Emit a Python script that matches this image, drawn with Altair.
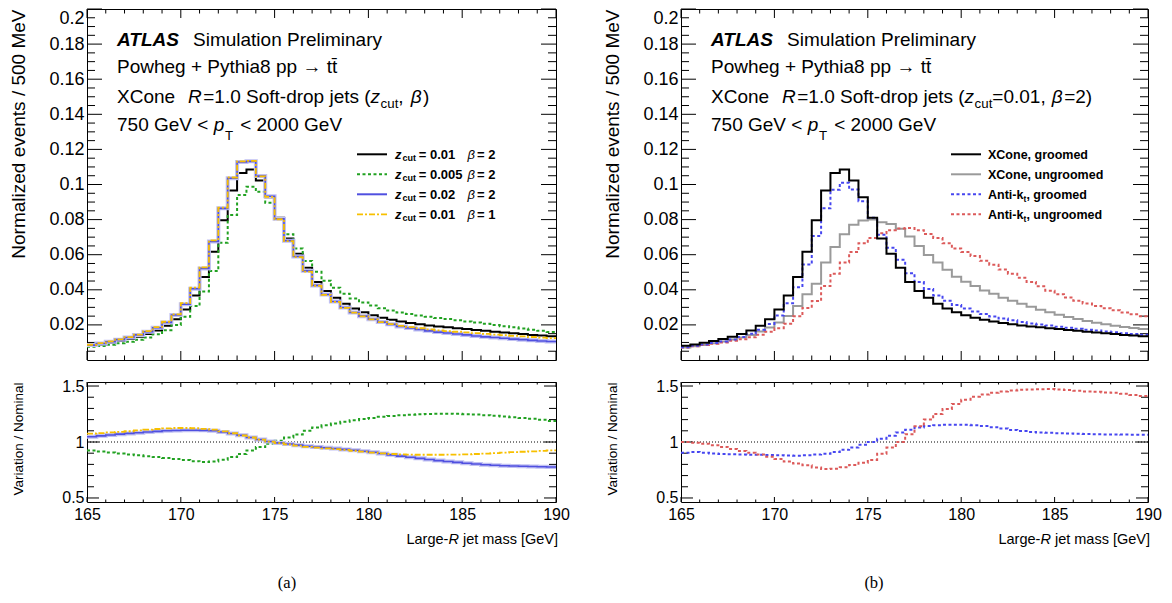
import altair as alt
import pandas as pd

# ---------------- data ----------------
mass_min = 165.0
bin_width = 0.5

# XCone soft-drop groomed, zcut = 0.01, beta = 2 (nominal in both panels)
xcone_groomed = [0.0081, 0.0089, 0.0098, 0.0108, 0.0119, 0.0132, 0.0148, 0.0168, 0.0195, 0.0232,
                 0.0288, 0.0368, 0.0473, 0.0617, 0.0796, 0.0966, 0.1066, 0.1086, 0.1023, 0.0928,
                 0.0810, 0.0692, 0.0606, 0.0526, 0.0445, 0.0393, 0.0354, 0.0320, 0.0293, 0.0272,
                 0.0255, 0.0241, 0.0229, 0.0219, 0.0211, 0.0204, 0.0197, 0.0191, 0.0186, 0.0181,
                 0.0176, 0.0171, 0.0166, 0.0161, 0.0157, 0.0152, 0.0148, 0.0143, 0.0139, 0.0135]
zcut0005_beta2 = [0.0075, 0.0080, 0.0087, 0.0095, 0.0104, 0.0115, 0.0128, 0.0147, 0.0170, 0.0200,
                  0.0246, 0.0308, 0.0390, 0.0507, 0.0668, 0.0826, 0.0940, 0.0987, 0.0958, 0.0896,
                  0.0807, 0.0716, 0.0636, 0.0564, 0.0503, 0.0452, 0.0412, 0.0378, 0.0350, 0.0328,
                  0.0310, 0.0295, 0.0282, 0.0271, 0.0262, 0.0254, 0.0246, 0.0239, 0.0233, 0.0227,
                  0.0220, 0.0213, 0.0206, 0.0199, 0.0193, 0.0186, 0.0180, 0.0173, 0.0166, 0.0160]
zcut002_beta2 = [0.0085, 0.0094, 0.0104, 0.0116, 0.0128, 0.0143, 0.0161, 0.0184, 0.0214, 0.0256,
                 0.0318, 0.0406, 0.0522, 0.0675, 0.0864, 0.1036, 0.1128, 0.1132, 0.1048, 0.0933,
                 0.0805, 0.0680, 0.0590, 0.0508, 0.0425, 0.0373, 0.0333, 0.0299, 0.0271, 0.0250,
                 0.0232, 0.0216, 0.0203, 0.0191, 0.0182, 0.0174, 0.0166, 0.0159, 0.0154, 0.0148,
                 0.0143, 0.0137, 0.0132, 0.0128, 0.0124, 0.0119, 0.0116, 0.0112, 0.0108, 0.0105]
zcut001_beta1 = [0.0087, 0.0096, 0.0106, 0.0118, 0.0130, 0.0145, 0.0164, 0.0187, 0.0218, 0.0260,
                 0.0324, 0.0412, 0.0528, 0.0682, 0.0868, 0.1040, 0.1132, 0.1135, 0.1046, 0.0930,
                 0.0802, 0.0677, 0.0586, 0.0503, 0.0423, 0.0371, 0.0331, 0.0297, 0.0270, 0.0249,
                 0.0231, 0.0216, 0.0204, 0.0195, 0.0187, 0.0181, 0.0175, 0.0169, 0.0165, 0.0161,
                 0.0157, 0.0153, 0.0149, 0.0145, 0.0142, 0.0138, 0.0135, 0.0131, 0.0128, 0.0125]

ratio_zcut0005 = [0.925, 0.915, 0.906, 0.897, 0.889, 0.881, 0.873, 0.865, 0.857, 0.848,
                  0.839, 0.829, 0.822, 0.826, 0.842, 0.865, 0.893, 0.925, 0.955, 0.985,
                  1.012, 1.040, 1.068, 1.100, 1.130, 1.150, 1.165, 1.180, 1.195, 1.205,
                  1.215, 1.225, 1.232, 1.238, 1.243, 1.247, 1.250, 1.252, 1.253, 1.252,
                  1.249, 1.245, 1.240, 1.234, 1.228, 1.222, 1.215, 1.207, 1.198, 1.188]
ratio_zcut002 = [1.047, 1.055, 1.063, 1.070, 1.077, 1.083, 1.089, 1.095, 1.100, 1.103,
                 1.105, 1.105, 1.104, 1.100, 1.090, 1.076, 1.060, 1.040, 1.022, 1.005,
                 0.992, 0.982, 0.972, 0.962, 0.955, 0.948, 0.942, 0.934, 0.926, 0.918,
                 0.908, 0.897, 0.885, 0.874, 0.864, 0.854, 0.844, 0.834, 0.826, 0.818,
                 0.810, 0.803, 0.797, 0.792, 0.788, 0.785, 0.783, 0.781, 0.779, 0.777]
ratio_beta1 = [1.075, 1.080, 1.086, 1.091, 1.096, 1.103, 1.110, 1.116, 1.121, 1.125,
               1.125, 1.123, 1.118, 1.110, 1.095, 1.078, 1.058, 1.040, 1.022, 1.003,
               0.990, 0.978, 0.967, 0.957, 0.950, 0.943, 0.936, 0.929, 0.922, 0.914,
               0.905, 0.898, 0.893, 0.889, 0.887, 0.886, 0.886, 0.886, 0.887, 0.888,
               0.890, 0.893, 0.897, 0.901, 0.905, 0.909, 0.913, 0.917, 0.921, 0.925]

xcone_ungroomed = [0.0071, 0.0079, 0.0086, 0.0096, 0.0105, 0.0117, 0.0128, 0.0143, 0.0162, 0.0185,
                   0.0213, 0.0251, 0.0308, 0.0375, 0.0435, 0.0555, 0.0644, 0.0716, 0.0770, 0.0795,
                   0.0800, 0.0785, 0.0775, 0.0748, 0.0703, 0.0649, 0.0598, 0.0556, 0.0514, 0.0474,
                   0.0446, 0.0421, 0.0396, 0.0377, 0.0355, 0.0337, 0.0320, 0.0303, 0.0287, 0.0272,
                   0.0258, 0.0245, 0.0233, 0.0222, 0.0212, 0.0203, 0.0195, 0.0188, 0.0182, 0.0177]
antikt_groomed = [0.0073, 0.0081, 0.0089, 0.0097, 0.0106, 0.0117, 0.0131, 0.0149, 0.0173, 0.0205,
                  0.0254, 0.0323, 0.0415, 0.0544, 0.0707, 0.0865, 0.0970, 0.1010, 0.0972, 0.0905,
                  0.0810, 0.0713, 0.0639, 0.0571, 0.0494, 0.0444, 0.0405, 0.0368, 0.0338, 0.0314,
                  0.0294, 0.0277, 0.0262, 0.0248, 0.0236, 0.0226, 0.0216, 0.0208, 0.0202, 0.0196,
                  0.0190, 0.0184, 0.0178, 0.0172, 0.0168, 0.0162, 0.0158, 0.0152, 0.0148, 0.0144]
antikt_ungroomed = [0.0071, 0.0078, 0.0085, 0.0093, 0.0100, 0.0110, 0.0118, 0.0129, 0.0144, 0.0161,
                    0.0181, 0.0207, 0.0249, 0.0297, 0.0336, 0.0421, 0.0491, 0.0555, 0.0615, 0.0665,
                    0.0695, 0.0722, 0.0740, 0.0750, 0.0752, 0.0740, 0.0718, 0.0695, 0.0665, 0.0635,
                    0.0615, 0.0592, 0.0565, 0.0543, 0.0515, 0.0492, 0.0469, 0.0445, 0.0420, 0.0395,
                    0.0375, 0.0356, 0.0338, 0.0322, 0.0308, 0.0295, 0.0283, 0.0271, 0.0260, 0.0250]
ratio_antikt_groomed = [0.905, 0.910, 0.905, 0.898, 0.893, 0.890, 0.888, 0.886, 0.885, 0.883,
                        0.881, 0.879, 0.878, 0.882, 0.888, 0.895, 0.910, 0.930, 0.950, 0.975,
                        1.000, 1.030, 1.055, 1.085, 1.110, 1.130, 1.143, 1.150, 1.154, 1.155,
                        1.154, 1.150, 1.142, 1.132, 1.120, 1.108, 1.098, 1.090, 1.085, 1.082,
                        1.079, 1.076, 1.073, 1.071, 1.069, 1.068, 1.067, 1.066, 1.065, 1.065]
ratio_antikt_ungroomed = [1.000, 0.993, 0.984, 0.972, 0.956, 0.938, 0.919, 0.904, 0.888, 0.868,
                          0.848, 0.825, 0.808, 0.792, 0.772, 0.758, 0.762, 0.775, 0.795, 0.815,
                          0.840, 0.895, 0.950, 1.000, 1.070, 1.140, 1.200, 1.250, 1.295, 1.340,
                          1.378, 1.405, 1.425, 1.440, 1.452, 1.460, 1.466, 1.470, 1.472, 1.473,
                          1.470, 1.465, 1.458, 1.452, 1.448, 1.443, 1.440, 1.432, 1.420, 1.410]

# axis tick values / labels
top_y_labels = [0.02, 0.04, 0.06, 0.08, 0.1, 0.12, 0.14, 0.16, 0.18, 0.2]
top_y_minor = [round(0.005 * k, 3) for k in range(1, 40) if k % 4 != 0]
ratio_y_labels = [0.5, 1.0, 1.5]
ratio_y_minor = [0.6, 0.7, 0.8, 0.9, 1.1, 1.2, 1.3, 1.4]
x_labels = [165, 170, 175, 180, 185, 190]
x_minor = [m for m in range(166, 190) if m % 5 != 0]

left_legend = [("0.01", "2"), ("0.005", "2"), ("0.02", "2"), ("0.01", "1")]
right_legend = ["XCone, groomed", "XCone, ungroomed", "Anti-k", "Anti-k"]

# ---------------- style ----------------
FONT = "Liberation Sans"
W_L, W_R = 469, 467
H_TOP, H_RAT = 351, 120
BLACK = "#000000"
GREEN = "#21a121"
BLUE_L = "#5050e0"
BLUE_HALO = "#c0c0f2"
YELLOW = "#f7c000"
GREY = "#9a9a9a"
BLUE_R = "#4646f0"
RED = "#dc5a5a"

xs = alt.Scale(domain=[165, 190], nice=False, zero=False)
ys_top = alt.Scale(domain=[0, 0.2], nice=False, zero=False)
ys_rat = alt.Scale(domain=[0.464, 1.536], nice=False, zero=False)

ax_top_y = alt.Axis(values=top_y_labels, format=".2~f", labelFontSize=18, labelPadding=3,
                    labelFlush=True, labelOverlap=False, labelColor="black", ticks=False,
                    domain=False, grid=False, title="Normalized events / 500 MeV",
                    titleFontSize=19, titleFontWeight="normal", titleColor="black",
                    titleAnchor="end", titlePadding=13.5, minExtent=45, maxExtent=45)
ax_rat_y = alt.Axis(values=ratio_y_labels, format="~g", labelFontSize=16, labelPadding=3,
                    labelFlush=False, labelOverlap=False, labelColor="black", ticks=False,
                    domain=False, grid=False, title="Variation / Nominal",
                    titleFontSize=13.5, titleFontWeight="normal", titleColor="black",
                    titleAnchor="end", titlePadding=17, minExtent=45, maxExtent=45)
ax_rat_x = alt.Axis(values=x_labels, format="d", labelFontSize=16, labelPadding=4,
                    labelFlush=False, labelOverlap=False, labelColor="black", ticks=False,
                    domain=False, grid=False, title=None)

one = pd.DataFrame({"k": [0]})

_REG = {' ': 278, '(': 333, ')': 333, '+': 584, ',': 278, '-': 333, '.': 278, '/': 278,
        '<': 584, '=': 584, '[': 278, ']': 278, 'A': 667, 'C': 722, 'G': 778, 'L': 556,
        'M': 833, 'P': 667, 'R': 722, 'S': 667, 'T': 611, 'V': 667, 'X': 667, 'a': 556,
        'b': 556, 'c': 500, 'd': 556, 'e': 556, 'f': 278, 'g': 556, 'h': 556, 'i': 222,
        'j': 222, 'k': 500, 'l': 222, 'm': 833, 'n': 556, 'o': 556, 'p': 556, 'r': 333,
        's': 500, 't': 278, 'u': 556, 'v': 500, 'w': 722, 'y': 500, 'z': 500,
        '\u03b2': 575, '\u2192': 1000}
_BOLD = {' ': 278, '(': 333, ')': 333, ',': 278, '-': 333, '.': 278, '=': 584, 'A': 722,
         'C': 722, 'X': 667, 'a': 556, 'c': 556, 'd': 611, 'e': 556, 'g': 611, 'i': 278,
         'k': 556, 'm': 889, 'n': 611, 'o': 611, 'r': 389, 't': 333, 'u': 611, 'z': 500}


def text_width(s, size, bold=False):
    tbl = _BOLD if bold else _REG
    return sum(tbl.get(c, 556) for c in s) * size / 1000.0


def label(text, x, y, size=19, weight="normal", style="normal", align="left", font=FONT):
    return alt.Chart(one).mark_text(text=text, align=align, baseline="alphabetic", font=font,
                                    fontSize=size, fontWeight=weight, fontStyle=style,
                                    color="black").encode(x=alt.value(x), y=alt.value(y))


def rich_line(pieces, y):
    # pieces: (text, x or None, gap, size, weight, style, dy)
    out, cursor = [], 0.0
    for text, x, gap, size, weight, style, dy in pieces:
        if x is None:
            x = cursor + gap
        out.append(label(text, x, y + dy, size, weight, style))
        cursor = x + text_width(text, size, weight == "bold")
    return out


def hist_frame(values):
    edges = [mass_min + bin_width * i for i in range(len(values) + 1)]
    return pd.DataFrame({"m": edges, "v": list(values) + [values[-1]]})


def step(values, color, width, yscale, yaxis, xaxis, dash=None):
    kw = dict(interpolate="step-after", color=color, strokeWidth=width, strokeCap="butt")
    if dash:
        kw["strokeDash"] = dash
    return alt.Chart(hist_frame(values)).mark_line(**kw).encode(
        x=alt.X("m:Q", scale=xs, axis=xaxis),
        y=alt.Y("v:Q", scale=yscale, axis=yaxis))


def frame_ticks(W, H, yscale, yaxis, xaxis, ymaj, ymin, ylen_maj, ylen_min, xlen_maj, xlen_min):
    layers = []
    for vals, ln in ((ymaj, ylen_maj), (ymin, ylen_min)):
        df = pd.DataFrame({"t": vals})
        for x1, x2 in ((0, ln), (W - ln, W)):
            layers.append(alt.Chart(df).mark_rule(color="black", strokeWidth=1).encode(
                y=alt.Y("t:Q", scale=yscale, axis=yaxis), x=alt.value(x1), x2=alt.value(x2)))
    for vals, ln in ((x_labels, xlen_maj), (x_minor, xlen_min)):
        df = pd.DataFrame({"t": vals})
        for y1, y2 in ((0, ln), (H - ln, H)):
            layers.append(alt.Chart(df).mark_rule(color="black", strokeWidth=1).encode(
                x=alt.X("t:Q", scale=xs, axis=xaxis), y=alt.value(y1), y2=alt.value(y2)))
    return layers


def header(line3):
    out = [label("ATLAS", 30, 36.5, 19, "bold", "italic"),
           label("Simulation Preliminary", 106, 36.5),
           label("Powheg + Pythia8 pp \u2192 tt\u0304", 30, 63.7)]
    out += rich_line(line3, 93.7)
    out += rich_line([("750 GeV < ", 30, 0, 19, "normal", "normal", 0),
                      ("p", 126.7, 0, 19, "normal", "italic", 0),
                      ("T", 138, 0, 13.3, "normal", "normal", 9),
                      ("< 2000 GeV", None, 7, 19, "normal", "normal", 0)], 122)
    return out


line3_common = [("XCone", 30, 0, 19, "normal", "normal", 0),
                ("R", 101, 0, 19, "normal", "italic", 0),
                ("=1.0 Soft-drop jets (", None, 1.5, 19, "normal", "normal", 0),
                ("z", None, 0, 19, "normal", "italic", 0),
                ("cut", None, 0.5, 13.3, "normal", "normal", 5)]
line3_left = line3_common + [(",", None, 0, 19, "normal", "normal", 0),
                             ("\u03b2", None, 7, 19, "normal", "italic", 0),
                             (")", None, 1.5, 19, "normal", "normal", 0)]
line3_right = line3_common + [("=0.01,", None, 0, 19, "normal", "normal", 0),
                              ("\u03b2", None, 6, 19, "normal", "italic", 0),
                              ("=2)", None, 1.5, 19, "normal", "normal", 0)]

LEG_Y = [145.3, 165.3, 185.3, 205.3]


def leg_line(y, color, width, dash=None):
    kw = dict(color=color, strokeWidth=width, strokeCap="butt")
    if dash:
        kw["strokeDash"] = dash
    return alt.Chart(one).mark_rule(**kw).encode(x=alt.value(270), x2=alt.value(300), y=alt.value(y))


# ---------------- left top ----------------
lt = []
lt += frame_ticks(W_L, H_TOP, ys_top, ax_top_y, None, top_y_labels, top_y_minor, 15, 8, 9, 4.5)
lt.append(step(xcone_groomed, BLACK, 2, ys_top, ax_top_y, None))
lt.append(step(zcut0005_beta2, GREEN, 2, ys_top, ax_top_y, None, [3, 2.5]))
lt.append(step(zcut002_beta2, BLUE_HALO, 4, ys_top, ax_top_y, None))
lt.append(step(zcut002_beta2, BLUE_L, 1.6, ys_top, ax_top_y, None))
lt.append(step(zcut001_beta1, YELLOW, 1.8, ys_top, ax_top_y, None, [6, 2, 2, 2]))
lt += header(line3_left)
leg_styles_l = [(BLACK, 2, None), (GREEN, 2, [3, 2.5]), (BLUE_L, 2, None), (YELLOW, 1.8, [6, 2, 2, 2])]
for (zc, be), cy, (col, wd, ds) in zip(left_legend, LEG_Y, leg_styles_l):
    lt.append(leg_line(cy, col, wd, ds))
    b = cy + 4.5
    lt.append(label("z", 308, b, 13, "bold", "italic"))
    lt.append(label("cut", 315.5, b + 2.5, 9, "bold"))
    lt.append(label("= " + zc, 331.7, b, 13, "bold"))
    lt.append(label("\u03b2", 380.5, b, 13, "normal", "italic"))
    lt.append(label("= " + be, 390, b, 13, "bold"))
left_top = alt.layer(*lt).properties(width=W_L, height=H_TOP)


def ratio_panel(W, series, subfig, subfig_x):
    ly = []
    ly += frame_ticks(W, H_RAT, ys_rat, ax_rat_y, ax_rat_x, ratio_y_labels, ratio_y_minor, 12, 7, 5, 2.5)
    ly.append(alt.Chart(pd.DataFrame({"r": [1.0]})).mark_rule(
        color="black", strokeWidth=1, strokeDash=[1, 2]).encode(
        y=alt.Y("r:Q", scale=ys_rat, axis=ax_rat_y)))
    for vals, col, wd, ds in series:
        ly.append(step(vals, col, wd, ys_rat, ax_rat_y, ax_rat_x, ds))
    # x-axis title with italic R, right aligned at the frame end
    xe = W + 2
    tail = " jet mass [GeV]"
    w_tail = text_width(tail, 14.5)
    w_r = text_width("R", 14.5)
    ly.append(label(tail, xe, 162, 14.5, align="right"))
    ly.append(label("R", xe - w_tail, 162, 14.5, style="italic", align="right"))
    ly.append(label("Large-", xe - w_tail - w_r, 162, 14.5, align="right"))
    ly.append(label(subfig, subfig_x, 206, 16.5, align="center", font="Liberation Serif"))
    return alt.layer(*ly).properties(width=W, height=H_RAT)


left_rat = ratio_panel(W_L, [(ratio_zcut0005, GREEN, 2, [3, 2.5]),
                             (ratio_zcut002, BLUE_HALO, 4, None),
                             (ratio_zcut002, BLUE_L, 1.6, None),
                             (ratio_beta1, YELLOW, 1.8, [6, 2, 2, 2])], "(a)", 200)

# ---------------- right top ----------------
rt = []
rt += frame_ticks(W_R, H_TOP, ys_top, ax_top_y, None, top_y_labels, top_y_minor, 15, 8, 9, 4.5)
rt.append(step(xcone_ungroomed, GREY, 2, ys_top, ax_top_y, None))
rt.append(step(antikt_ungroomed, RED, 2, ys_top, ax_top_y, None, [3, 2.5]))
rt.append(step(antikt_groomed, BLUE_R, 2, ys_top, ax_top_y, None, [3, 2.5]))
rt.append(step(xcone_groomed, BLACK, 2, ys_top, ax_top_y, None))
rt += header(line3_right)
leg_styles_r = [(BLACK, 2, None), (GREY, 2, None), (BLUE_R, 2, [3, 2.5]), (RED, 2, [3, 2.5])]
for i, (txt, cy, (col, wd, ds)) in enumerate(zip(right_legend, LEG_Y, leg_styles_r)):
    rt.append(leg_line(cy, col, wd, ds))
    b = cy + 4.3
    rt.append(label(txt, 307, b, 12.5, "bold"))
    if i >= 2:
        xt = 307 + text_width(txt, 12.5, True)
        rt.append(label("t", xt, b + 3, 8.5, "bold"))
        rt.append(label(", groomed" if i == 2 else ", ungroomed", xt + 3, b, 12.5, "bold"))
right_top = alt.layer(*rt).properties(width=W_R, height=H_TOP)

right_rat = ratio_panel(W_R, [(ratio_antikt_groomed, BLUE_R, 2, [3, 2.5]),
                              (ratio_antikt_ungroomed, RED, 2, [3, 2.5])], "(b)", 193)

left_col = alt.vconcat(left_top, left_rat, spacing=16)
right_col = alt.vconcat(right_top, right_rat, spacing=16)

chart = alt.hconcat(left_col, right_col, spacing=32).properties(
    padding=0, background="white"
).configure(font=FONT).configure_view(stroke="black", strokeWidth=1)

chart.save("out.html", embed_options={"renderer": "svg", "actions": False})
